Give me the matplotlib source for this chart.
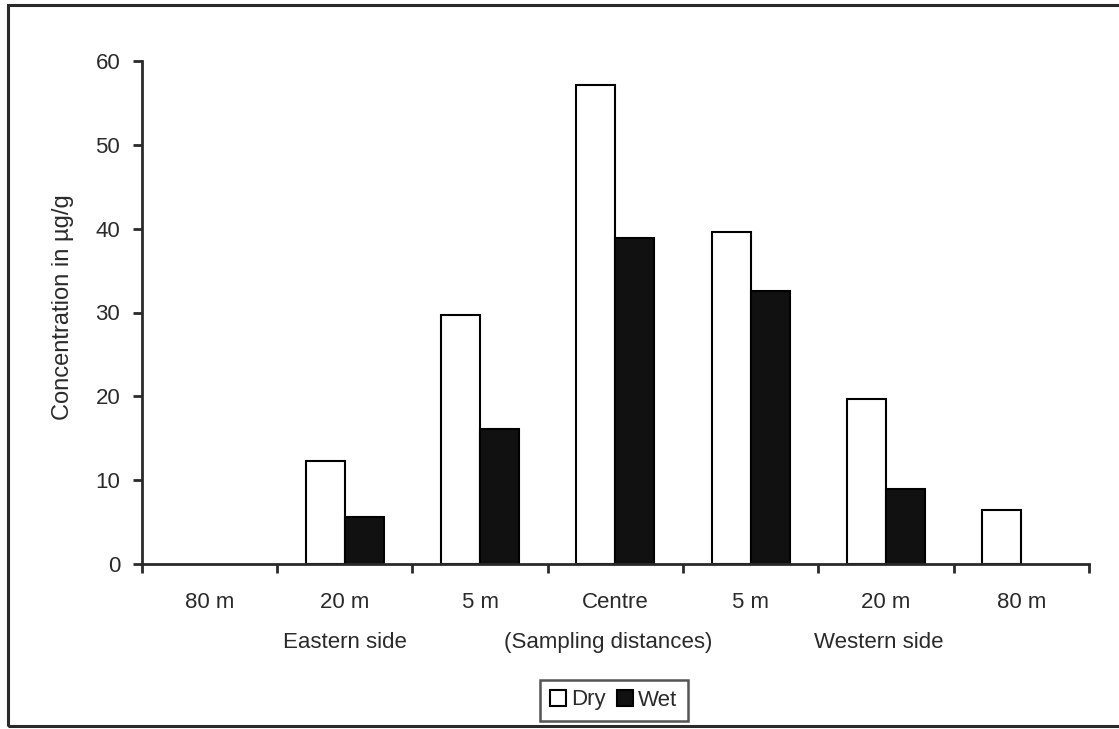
import matplotlib
matplotlib.use("Agg")
import matplotlib.pyplot as plt
from matplotlib.patches import Rectangle, Patch
import numpy as np

categories = ["80 m", "20 m", "5 m", "Centre", "5 m", "20 m", "80 m"]
dry = [0, 12.3, 29.7, 57.1, 39.6, 19.7, 6.4]
wet = [0, 5.6, 16.1, 38.9, 32.6, 9.0, 0]
group_labels = ["Eastern side", "(Sampling distances)", "Western side"]
group_pos = [1.5, 3.45, 5.45]
yticks = [0, 10, 20, 30, 40, 50, 60]

plt.rcParams['font.family'] = ['Liberation Sans', 'DejaVu Sans']
ink = "#2a2a2a"
fs = 16

fig = plt.figure(figsize=(11.19, 7.29), dpi=100)
fig.patch.set_facecolor("white")
# outer frame
fig.add_artist(Rectangle((8/1119, 3/729), 1.2, 1 - 8/729, transform=fig.transFigure,
                         fill=False, edgecolor=ink, linewidth=2.2, clip_on=False))

ax = fig.add_axes([141.7/1119, 1 - 564/729, (1089 - 141.7)/1119, (564 - 61)/729])
x = np.arange(len(categories)) + 0.5
w = 0.288
dry_a = np.array(dry, dtype=float)
wet_a = np.array(wet, dtype=float)
ax.bar(x - w/2, dry_a, width=w, color="white", edgecolor="black",
       linewidth=np.where(dry_a > 0, 1.5, 0), label="Dry")
ax.bar(x + w/2, wet_a, width=w, color="#111111", edgecolor="black",
       linewidth=np.where(wet_a > 0, 1.5, 0), label="Wet")

ax.set_xlim(0, len(categories))
ax.set_ylim(0, 60)
ax.set_yticks(yticks)
ax.set_xticks(np.arange(len(categories) + 1))
ax.set_xticklabels([])
ax.set_xticks(x, minor=True)
ax.set_xticklabels(categories, minor=True)
ax.tick_params(axis="x", which="minor", length=0, pad=20, labelsize=fs, colors=ink)
ax.tick_params(axis="x", which="major", length=6.5, width=2, direction="out", color=ink)
ax.tick_params(axis="y", length=6.5, width=2, direction="out", color=ink, labelsize=fs,
               labelcolor=ink, pad=9)
for s in ["top", "right"]:
    ax.spines[s].set_visible(False)
for s in ["left", "bottom"]:
    ax.spines[s].set_linewidth(2)
    ax.spines[s].set_color(ink)
ax.set_ylabel("Concentration in µg/g", fontsize=17, color=ink)
ax.yaxis.set_label_coords(-(141.7 - 74)/(1089 - 141.7), (564 - 307)/503)

for lab, gx in zip(group_labels, group_pos):
    ax.text(gx, -0.157, lab, transform=ax.get_xaxis_transform(), ha="center", va="center",
            fontsize=fs, color=ink)

handles = [Patch(facecolor="white", edgecolor="black", linewidth=1.5, label="Dry"),
           Patch(facecolor="#111111", edgecolor="black", linewidth=1.5, label="Wet")]
leg = fig.legend(handles=handles, loc="center", bbox_to_anchor=(614/1119, 1 - 700/729), ncol=2,
                 frameon=True, fancybox=False, edgecolor=ink, fontsize=fs,
                 handlelength=0.7, handleheight=0.7, handletextpad=0.25, columnspacing=0.5,
                 borderpad=0.45, labelcolor=ink)
leg.get_frame().set_linewidth(1.8)

fig.savefig("out.png", dpi=100)
